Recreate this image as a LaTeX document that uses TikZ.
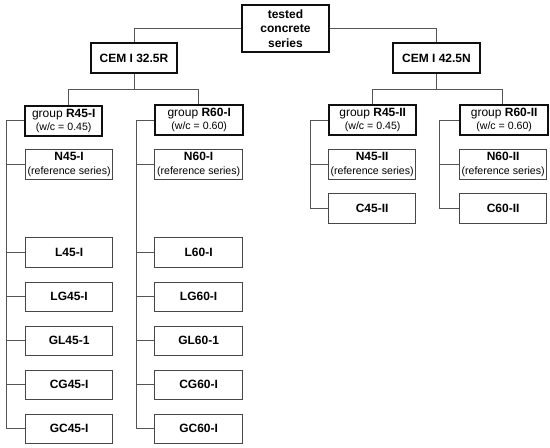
\documentclass[tikz,border=0pt]{standalone}
\usepackage{fontspec}
\setmainfont{Liberation Sans}
\usetikzlibrary{positioning}
\definecolor{ink}{RGB}{15,15,15}
\definecolor{edge}{RGB}{70,70,70}
\definecolor{wire}{RGB}{85,85,85}
\newcommand{\subtxt}{\fontsize{10.6}{12}\selectfont\mdseries}
\def\ColA{25}
\def\ColB{154}
\def\ColC{328}
\def\ColD{459}
\def\RowN{149}
\def\RowC{193}
\def\RowL{237}
\def\RowLG{281.5}
\def\RowGL{325.5}
\def\RowCG{369.5}
\def\RowGC{413.5}
\tikzset{
  head/.style={
    draw=ink, line width=2.6pt, minimum height=30pt, minimum width=86pt,
    align=center, inner sep=0pt, font=\fontsize{12}{14.5}\selectfont\bfseries,
  },
  grp/.style={
    draw=ink, line width=2.4pt, minimum height=30pt, minimum width=#1,
    align=center, inner sep=0pt, anchor=north west,
    font=\fontsize{12}{13.3}\selectfont,
  },
  grp/.default=88pt,
  leaf/.style={
    draw=edge, line width=1.2pt, minimum height=29.5pt, minimum width=87pt,
    align=center, inner sep=0pt, anchor=north west,
    font=\fontsize{12}{13.3}\selectfont\bfseries,
  },
  conn/.style={draw=wire, line width=1pt},
}
\begin{document}
\begin{tikzpicture}[x=1pt,y=-1pt]
  \useasboundingbox (0,0) rectangle (550,448);

  % top levels
  \node[head, minimum width=87pt, minimum height=47pt] (root) at (285.5,28.5) {tested\\concrete\\series};
  \node[head] (cemA) at (134,58) {CEM I 32.5R};
  \node[head, minimum width=87pt] (cemB) at (436.5,58) {CEM I 42.5N};
  \draw[conn] (root.west) -| (cemA.north);
  \draw[conn] (root.east) -| (cemB.north);

  % groups
  \node[grp=77pt] (gA) at (24,104.5) {group \textbf{R45-I}\\{\subtxt (w/c = 0.45)}};
  \node[grp] (gB) at (\ColB,104) {group \textbf{R60-I}\\{\subtxt (w/c = 0.60)}};
  \node[grp=87pt] (gC) at (\ColC,104) {group \textbf{R45-II}\\{\subtxt (w/c = 0.45)}};
  \node[grp] (gD) at (\ColD,104) {group \textbf{R60-II}\\{\subtxt (w/c = 0.60)}};

  \coordinate (jA) at (68,89);
  \coordinate (jB) at (198,89);
  \coordinate (jC) at (372,89);
  \coordinate (jD) at (502,89);
  \draw[conn] (cemA.south) -- (cemA.south |- jA);
  \draw[conn] (jA |- gA.north) -- (jA) -- (jB) -- (jB |- gB.north);
  \draw[conn] (cemB.south) -- (cemB.south |- jC);
  \draw[conn] (jC |- gC.north) -- (jC) -- (jD) -- (jD |- gD.north);

  % series, cement I 32.5R
  \node[leaf] (nA) at (\ColA,\RowN) {N45-I\\{\subtxt (reference series)}};
  \node[leaf] (lA) at (\ColA,\RowL) {L45-I};
  \node[leaf] (lgA) at (\ColA,\RowLG) {LG45-I};
  \node[leaf] (glA) at (\ColA,\RowGL) {GL45-1};
  \node[leaf] (cgA) at (\ColA,\RowCG) {CG45-I};
  \node[leaf] (gcA) at (\ColA,\RowGC) {GC45-I};

  \node[leaf, minimum width=88pt] (nB) at (\ColB,\RowN) {N60-I\\{\subtxt (reference series)}};
  \node[leaf, minimum width=88pt] (lB) at (\ColB,\RowL) {L60-I};
  \node[leaf, minimum width=88pt] (lgB) at (\ColB,\RowLG) {LG60-I};
  \node[leaf, minimum width=88pt] (glB) at (\ColB,\RowGL) {GL60-1};
  \node[leaf, minimum width=88pt] (cgB) at (\ColB,\RowCG) {CG60-I};
  \node[leaf, minimum width=88pt] (gcB) at (\ColB,\RowGC) {GC60-I};

  % series, cement I 42.5N
  \node[leaf] (nC) at (\ColC,\RowN) {N45-II\\{\subtxt (reference series)}};
  \node[leaf] (cC) at (\ColC,\RowC) {C45-II};
  \node[leaf] (nD) at (\ColD,\RowN) {N60-II\\{\subtxt (reference series)}};
  \node[leaf] (cD) at (\ColD,\RowC) {C60-II};

  % spines
  \coordinate (sA) at (6,119);
  \coordinate (sB) at (136,119);
  \coordinate (sC) at (310,119);
  \coordinate (sD) at (439,119);
  \draw[conn] (gA.west) -| (sA |- gcA.west) -- (gcA.west);
  \draw[conn] (nA.west) -- (nA.west -| sA);
  \draw[conn] (lA.west) -- (lA.west -| sA);
  \draw[conn] (lgA.west) -- (lgA.west -| sA);
  \draw[conn] (glA.west) -- (glA.west -| sA);
  \draw[conn] (cgA.west) -- (cgA.west -| sA);

  \draw[conn] (gB.west) -| (sB |- gcB.west) -- (gcB.west);
  \draw[conn] (nB.west) -- (nB.west -| sB);
  \draw[conn] (lB.west) -- (lB.west -| sB);
  \draw[conn] (lgB.west) -- (lgB.west -| sB);
  \draw[conn] (glB.west) -- (glB.west -| sB);
  \draw[conn] (cgB.west) -- (cgB.west -| sB);

  \draw[conn] (gC.west) -| (sC |- cC.west) -- (cC.west);
  \draw[conn] (nC.west) -- (nC.west -| sC);
  \draw[conn] (gD.west) -| (sD |- cD.west) -- (cD.west);
  \draw[conn] (nD.west) -- (nD.west -| sD);
\end{tikzpicture}
\end{document}
